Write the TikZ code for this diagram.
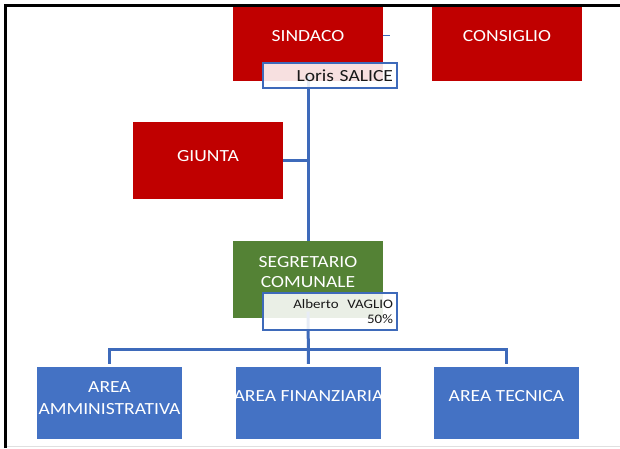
\documentclass[tikz,border=0pt]{standalone}
\usepackage{fontspec}
\setmainfont{Carlito}[FakeStretch=1.15]
\definecolor{boxred}{RGB}{192,0,0}
\definecolor{boxgreen}{RGB}{84,130,53}
\definecolor{boxblue}{RGB}{68,114,196}
\definecolor{connblue}{RGB}{62,106,186}
\definecolor{darktext}{RGB}{25,25,25}
\begin{document}
\begin{tikzpicture}[x=1pt,y=-1pt,
  shapebox/.style={rectangle, inner sep=0pt, draw=none},
  redbox/.style={shapebox, fill=boxred, minimum width=150pt},
  greenbox/.style={shapebox, fill=boxgreen, minimum width=150pt, minimum height=77pt},
  bluebox/.style={shapebox, fill=boxblue, minimum width=145pt, minimum height=72pt},
  boxtext/.style={inner sep=0pt, text=white, align=center, font=\fontsize{17}{20}\selectfont},
  conn/.style={draw=connblue, line width=3pt},
  namebox/.style={rectangle, draw=connblue, line width=2.5pt, fill=white, fill opacity=0.88, text opacity=1,
     text=darktext, inner xsep=4pt, inner ysep=0pt, minimum width=134pt, text width=126pt, align=right}
]
\useasboundingbox (0,0) rectangle (620,448);

% red boxes
\node[redbox, minimum height=76pt] (sindaco) at (308,43) {};
\node[boxtext] (tsindaco) at (308,36) {SINDACO};
\node[redbox, minimum height=76pt] (consiglio) at (507,43) {};
\node[boxtext] (tconsiglio) at (507,36) {CONSIGLIO};
\node[redbox, minimum height=77pt] (giunta) at (208,160.5) {};
\node[boxtext] (tgiunta) at (208,156) {GIUNTA};

% green box
\node[greenbox] (segr) at (308,279.5) {};
\node[boxtext, font=\fontsize{17}{20}\selectfont] (tsegr) at (308,272.5) {SEGRETARIO\\COMUNALE};

% blue boxes
\node[bluebox] (amm) at (109.5,403) {};
\node[boxtext, font=\fontsize{17}{21.5}\selectfont] (tamm) at (109.5,398) {AREA\\AMMINISTRATIVA};
\node[bluebox] (fin) at (308.5,403) {};
\node[boxtext] (tfin) at (308.5,396.5) {AREA FINANZIARIA};
\node[bluebox] (tec) at (506.5,403) {};
\node[boxtext] (ttec) at (506.5,396) {AREA TECNICA};

% name boxes geometry (drawn later)
\coordinate (lorisc) at (330,75.5);
\coordinate (albertoc) at (330,311.5);
\coordinate (stub) at (390,35);
\coordinate (busy) at (0,349);

% connectors
\draw[draw=connblue, line width=1pt] (sindaco.east |- stub) -- (stub);
\draw[conn] (segr.north |- lorisc) -- (segr.north);
\draw[conn] (giunta.east) -- (giunta.east -| segr.north);
\draw[conn, shorten >=3pt] (segr.south |- albertoc) -- (fin.north);
\draw[conn, shorten <=3pt, shorten >=3pt] (amm.north) -- (amm.north |- busy) -- (tec.north |- busy) -- (tec.north);

% name boxes
\node[namebox, minimum height=25pt, font=\fontsize{17}{20}\selectfont] (loris) at (lorisc) {Loris SALICE};
\node[namebox, minimum height=37pt, font=\fontsize{13}{15}\selectfont] (alberto) at (albertoc) {Alberto\ \ VAGLIO\\50\%};

% frame
\coordinate (fTL) at (5,5);
\coordinate (fTR) at (620,5);
\coordinate (fBL) at (5,448);
\coordinate (gL) at (5,446.5);
\coordinate (gR) at (620,446.5);
\draw[draw=black!12, line width=1.5pt] (gL) -- (gR);
\draw[black, line width=3pt] (fBL) -- (fTL) -- (fTR);
\end{tikzpicture}
\end{document}
